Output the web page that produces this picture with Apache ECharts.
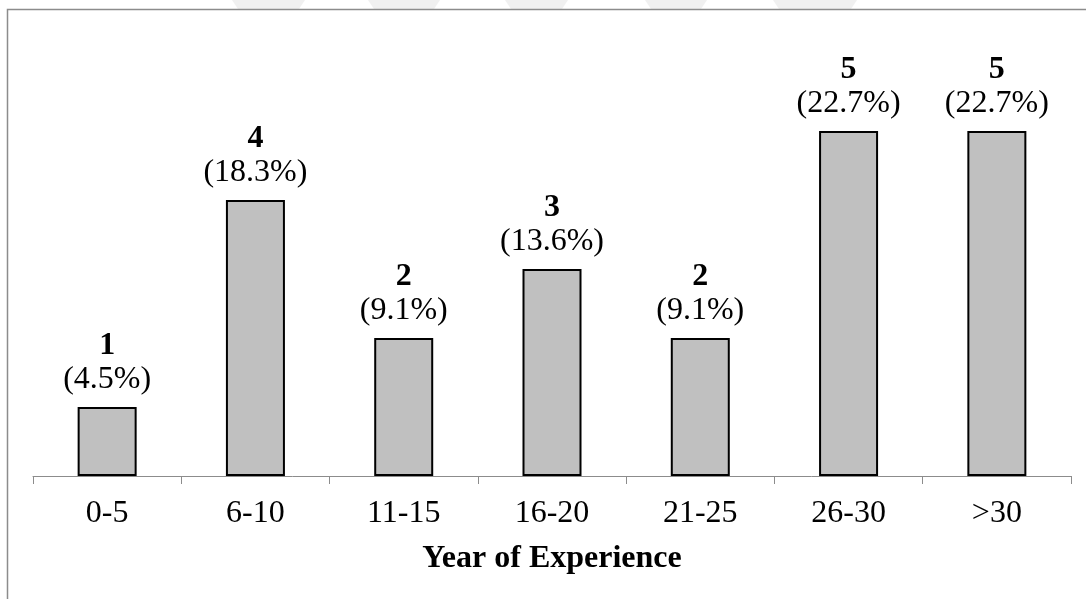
<!DOCTYPE html>
<html><head><meta charset="utf-8">
<script src="https://cdn.jsdelivr.net/npm/echarts@6/dist/echarts.min.js"></script>
<style>html,body{margin:0;padding:0;background:#fff}#c{width:1086px;height:599px}</style>
</head><body><div id="c"></div>
<script>
const categories = ['0-5','6-10','11-15','16-20','21-25','26-30','>30'];
const counts = [1,4,2,3,2,5,5];
const percents = ['4.5%','18.3%','9.1%','13.6%','9.1%','22.7%','22.7%'];
const axisTitle = 'Year of Experience';

const chart = echarts.init(document.getElementById('c'));
const font = '"Liberation Serif","Times New Roman",serif';
const wm = [[232,305],[368,440],[505,568],[645,707],[773,857]];
const graphics = [{type:'rect',shape:{x:7.5,y:9.5,width:1090,height:600},style:{fill:'none',stroke:'#8c8c8c',lineWidth:1.5},z:10}];
wm.forEach(r=>graphics.push({type:'polygon',shape:{points:[[r[0],0],[r[1],0],[r[1]-6,9],[r[0]+6,9]]},style:{fill:'#f0f0f0'},z:-1}));
chart.setOption({
  animation:false,
  backgroundColor:'#fff',
  graphic:graphics,
  grid:{left:33,right:15,top:62,bottom:123},
  xAxis:{type:'category',data:categories,
    axisLine:{lineStyle:{color:'#8c8c8c',width:1}},
    axisTick:{show:true,length:8,lineStyle:{color:'#8c8c8c'}},
    axisLabel:{color:'#000',fontFamily:font,fontSize:32,margin:22},
    name:axisTitle,nameLocation:'middle',nameGap:67,
    nameTextStyle:{color:'#000',fontFamily:font,fontSize:32,fontWeight:'bold'}},
  yAxis:{type:'value',min:0,max:6,show:false,splitLine:{show:false}},
  series:[{type:'bar',barWidth:59,
    data:counts,
    itemStyle:{color:'#c0c0c0',borderColor:'#000',borderWidth:2},
    label:{show:true,position:'top',distance:10,
      formatter:p=>'{a|'+p.value+'}\n{b|('+percents[p.dataIndex]+')}',
      rich:{a:{fontFamily:font,fontSize:32,fontWeight:'bold',color:'#000',lineHeight:34},
            b:{fontFamily:font,fontSize:32,color:'#000',lineHeight:34}}}
  }]
});
</script></body></html>
